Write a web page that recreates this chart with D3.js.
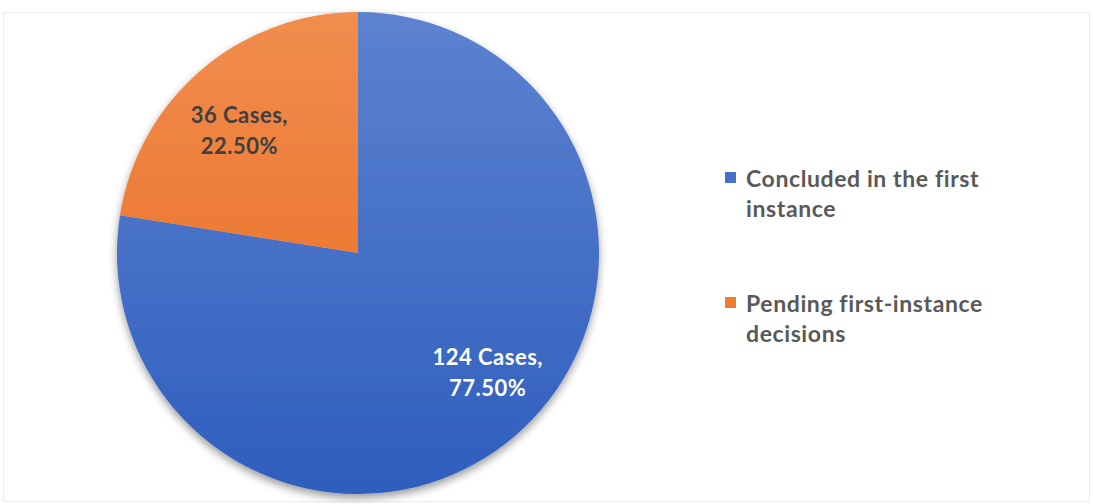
<!DOCTYPE html>
<html>
<head>
<meta charset="utf-8">
<script src="https://cdn.jsdelivr.net/npm/d3@7"></script>
<style>
  html, body { margin: 0; padding: 0; background: #fff; }
  svg { display: block; }
  text { font-family: Lato, "Open Sans", sans-serif; font-weight: 700; }
</style>
</head>
<body>
<svg id="chart" width="1093" height="504"></svg>
<script>
// Case status counts
const categories = ["Concluded in the first instance", "Pending first-instance decisions"];
const caseCounts = [124, 36];
const percentLabels = ["77.50%", "22.50%"];
const legendLines = [["Concluded in the first", "instance"], ["Pending first-instance", "decisions"]];

const W = 1093, H = 504;
const cx = 358, cy = 253, R = 241;

const svg = d3.select("#chart");
const defs = svg.append("defs");

// Faint frame around the chart area
svg.append("rect")
  .attr("x", 3.5).attr("y", 12.5)
  .attr("width", W - 7).attr("height", H - 15)
  .attr("fill", "none").attr("stroke", "#ececec").attr("stroke-width", 1);

// Vertical shading per slice
const gradStops = [
  ["#5d82d0", "#2e5ebd"],
  ["#f18d4f", "#e86618"]
];
gradStops.forEach((s, i) => {
  const g = defs.append("linearGradient")
    .attr("id", "grad" + i)
    .attr("gradientUnits", "userSpaceOnUse")
    .attr("x1", 0).attr("y1", -R).attr("x2", 0).attr("y2", R);
  g.append("stop").attr("offset", "0%").attr("stop-color", s[0]);
  g.append("stop").attr("offset", "100%").attr("stop-color", s[1]);
});

// Soft shadow under the pie
const f = defs.append("filter").attr("id", "shadow")
  .attr("x", "-10%").attr("y", "-10%").attr("width", "120%").attr("height", "125%");
f.append("feDropShadow")
  .attr("dx", 0).attr("dy", 4).attr("stdDeviation", 4)
  .attr("flood-color", "#000").attr("flood-opacity", 0.4);

const pie = d3.pie().sort(null).value(d => d)(caseCounts);
const arc = d3.arc().innerRadius(0).outerRadius(R);
const labelArc = d3.arc().innerRadius(R * 0.72).outerRadius(R * 0.72);

const g = svg.append("g").attr("transform", `translate(${cx},${cy})`);

g.append("g").attr("filter", "url(#shadow)")
  .selectAll("path")
  .data(pie)
  .join("path")
  .attr("d", arc)
  .attr("fill", (d, i) => `url(#grad${i})`);

// Data labels: count and share
const labelColors = ["#ffffff", "#404040"];
const labelNudge = [[17, -12], [-6, 10]];
const labels = g.selectAll("text.lbl")
  .data(pie)
  .join("text")
  .attr("class", "lbl")
  .attr("text-anchor", "middle")
  .attr("font-size", 22)
  .attr("letter-spacing", 0.5)
  .attr("fill", (d, i) => labelColors[i])
  .attr("transform", (d, i) => {
    const [x, y] = labelArc.centroid(d);
    return `translate(${x + labelNudge[i][0]},${y + labelNudge[i][1]})`;
  });
labels.append("tspan").attr("x", 0).attr("y", -8)
  .text((d, i) => `${caseCounts[i]} Cases,`);
labels.append("tspan").attr("x", 0).attr("y", 23)
  .text((d, i) => percentLabels[i]);

// Legend
const legendColors = ["#4472c4", "#ed7d31"];
const legend = svg.append("g").attr("transform", "translate(725,0)");
const item = legend.selectAll("g")
  .data(categories)
  .join("g")
  .attr("transform", (d, i) => `translate(0,${172 + i * 125})`);
item.append("rect")
  .attr("width", 11).attr("height", 11)
  .attr("fill", (d, i) => legendColors[i]);
const lt = item.append("text")
  .attr("font-size", 23)
  .attr("letter-spacing", 0.6)
  .attr("fill", "#595959");
lt.selectAll("tspan")
  .data((d, i) => legendLines[i])
  .join("tspan")
  .attr("x", 21)
  .attr("y", (d, j) => 15 + j * 30)
  .text(d => d);
</script>
</body>
</html>
